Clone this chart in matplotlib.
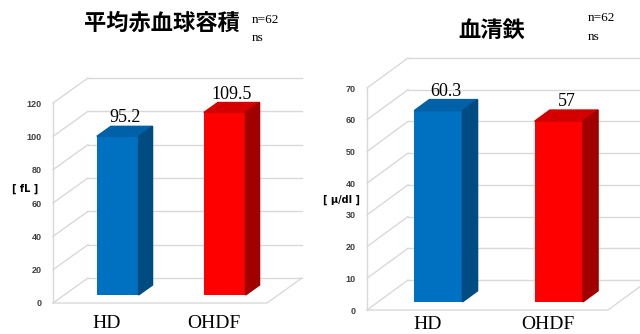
import numpy as np
import matplotlib
matplotlib.use("Agg")
import matplotlib.pyplot as plt
from matplotlib.patches import Polygon

plt.rcParams['font.family'] = ['Noto Sans CJK JP', 'DejaVu Sans']

# données
categories = ["HD", "OHDF"]
mcv_values = [95.2, 109.5]        # 平均赤血球容積 (fL)
iron_values = [60.3, 57]          # 血清鉄 (μ/dl)
mcv_ticks = list(range(0, 121, 20))
iron_ticks = list(range(0, 71, 10))

front_colors = ["#0070C0", "#FF0000"]
top_colors = ["#0060A8", "#D40000"]
side_colors = ["#004C82", "#A00000"]
grid_color = "#D9D9D9"


def panel(fig, rect, values, ticks, unit, unit_pos, depth_px, bar_w, f0, fd, xpad):
    ax = fig.add_axes(rect)
    ax.set_xlim(-0.5, 1.5)
    ax.set_ylim(0, ticks[-1])
    # profondeur en pixels -> unités de données
    p = ax.transData.transform([(0, 0), (1, 1)])
    sx, sy = p[1] - p[0]
    ddx, ddy = depth_px[0] / sx, depth_px[1] / sy
    x0, x1 = -0.5, 1.5

    # murs et quadrillage
    kw = dict(color=grid_color, lw=1.0, clip_on=False, zorder=1)
    for t in ticks:
        ax.plot([x0, x0 + ddx], [t, t + ddy], **kw)
        ax.plot([x0 + ddx, x1 + ddx], [t + ddy, t + ddy], **kw)
    ax.plot([x0, x0], [0, ticks[-1]], **kw)
    ax.plot([x0, x1, x1 + ddx], [0, 0, ddy], **kw)

    # barres 3D
    f1 = f0 + fd
    for i, v in enumerate(values):
        xl, xr = i - bar_w / 2, i + bar_w / 2
        ax.bar(i + f0 * ddx, v, bar_w, bottom=f0 * ddy, color=front_colors[i],
               zorder=3, clip_on=False)
        top = [(xl + f0 * ddx, v + f0 * ddy), (xr + f0 * ddx, v + f0 * ddy),
               (xr + f1 * ddx, v + f1 * ddy), (xl + f1 * ddx, v + f1 * ddy)]
        side = [(xr + f0 * ddx, f0 * ddy), (xr + f0 * ddx, v + f0 * ddy),
                (xr + f1 * ddx, v + f1 * ddy), (xr + f1 * ddx, f1 * ddy)]
        ax.add_patch(Polygon(top, closed=True, color=top_colors[i], zorder=3, clip_on=False))
        ax.add_patch(Polygon(side, closed=True, color=side_colors[i], zorder=3, clip_on=False))
        ax.text(i + (f0 + fd / 2) * ddx, v + f1 * ddy, f"{v:g}",
                ha='center', va='bottom', fontsize=13, family='Liberation Serif',
                zorder=4)

    ax.set_xticks(range(len(categories)))
    ax.set_xticklabels(categories, family='Liberation Serif', fontsize=14)
    ax.set_yticks(ticks)
    ax.set_yticklabels([str(t) for t in ticks], family='Liberation Sans',
                       fontsize=6.5, fontweight='bold', color='#404040')
    ax.tick_params(axis='x', length=0, pad=xpad)
    ax.tick_params(axis='y', length=0, pad=8)
    for s in ax.spines.values():
        s.set_visible(False)
    ax.patch.set_visible(False)
    ax.text(unit_pos[0], unit_pos[1], unit, transform=ax.transAxes,
            ha='center', va='center', fontsize=7, fontweight='bold',
            family='DejaVu Sans')
    return ax


fig = plt.figure(figsize=(6.4, 3.34), dpi=100)

panel(fig, [53 / 640, 31 / 334, 214 / 640, 200 / 334], mcv_values, mcv_ticks,
      "[ fL ]", (-0.131, 0.57), (35, 25), 0.39, 0.32, 0.4, 9)
panel(fig, [367 / 640, 24 / 334, 241 / 640, 222 / 334], iron_values, iron_ticks,
      "[ μ/dl ]", (-0.104, 0.495), (41, 30), 0.40, 0.27, 0.37, 4)

# titres
fig.text(162 / 640, 311 / 334, "平均赤血球容積", ha='center', va='center',
         fontsize=16, fontweight='bold')
fig.text(492 / 640, 304 / 334, "血清鉄", ha='center', va='center',
         fontsize=16, fontweight='bold')
for x, y1, y2 in [(252, 314, 296), (588, 316, 297)]:
    fig.text(x / 640, y1 / 334, "n=62", ha='left', va='center', fontsize=9.5,
             family='Liberation Serif')
    fig.text(x / 640, y2 / 334, "ns", ha='left', va='center', fontsize=9.5,
             family='Liberation Serif')

fig.savefig("out.png", dpi=100)
